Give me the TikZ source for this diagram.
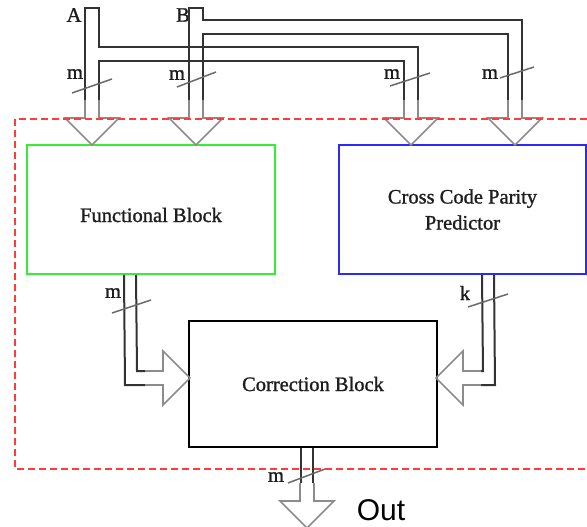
\documentclass[tikz,border=0pt]{standalone}
\usepackage{fontspec}
\setmainfont{Liberation Serif}
\newfontfamily\labfont[FakeBold=1.2]{Liberation Serif}
\newfontfamily\outfont{Liberation Sans}
\definecolor{busc}{HTML}{333333}
\definecolor{arrc}{HTML}{8C8C8C}
\definecolor{slashc}{HTML}{6A6A6A}
\definecolor{redc}{HTML}{FF3B3B}
\definecolor{greenc}{HTML}{33EE33}
\definecolor{bluec}{HTML}{2A2AFF}
\definecolor{textc}{HTML}{1E1E1E}
\begin{document}
\begin{tikzpicture}[x=1pt,y=-1pt,
  bus/.style={draw=busc,line width=2pt,line join=miter},
  harrow/.style={draw=arrc,line width=1.6pt,line join=miter},
  slash/.style={draw=slashc,line width=1.5pt},
  lbl/.style={inner sep=0pt,text=textc,font=\labfont\fontsize{20.5}{26}\selectfont},
  block/.style={draw,line width=2pt,inner sep=0pt,text=textc,font=\labfont\fontsize{20.5}{26}\selectfont,align=center},
  hollow/.pic={\path[harrow] (-7,0) -- (-7,18) -- (-27,18) -- (0,45) -- (27,18) -- (7,18) -- (7,0);}
]
\useasboundingbox (0,0) rectangle (587,527);

% input labels
\node[lbl] (A) at (74,15) {A};
\node[lbl] (B) at (183,15) {B};

% input buses
\draw[bus] (85,100) -- (85,8) -- (99,8) -- (99,47) -- (418,47) -- (418,100);
\draw[bus] (99,100) -- (99,61) -- (404,61) -- (404,100);
\draw[bus] (189,100) -- (189,8) -- (203,8) -- (203,20) -- (522,20) -- (522,100);
\draw[bus] (203,100) -- (203,34) -- (508,34) -- (508,100);

% blocks
\node[block,draw=greenc,minimum width=248,minimum height=129,text height=25pt,text depth=0pt] (func) at (151,209.5) {Functional Block};
\node[block,draw=bluec,minimum width=247,minimum height=129] (ccpp) at (462.5,209.5) {Cross Code Parity\\Predictor};
\node[block,draw=black,minimum width=248,minimum height=126] (corr) at (313,384) {Correction Block};

% input arrows
\coordinate (a1) at (92,100);
\coordinate (a2) at (196,100);
\coordinate (a3) at (411,100);
\coordinate (a4) at (515,100);
\pic at (a1) {hollow};
\pic at (a2) {hollow};
\pic at (a3) {hollow};
\pic at (a4) {hollow};

% functional block output
\draw[bus] (func.south west) ++(98,0) -- (125,385) -- (145,385);
\draw[bus] (func.south west) ++(110,0) -- (137,371) -- (145,371);
\coordinate (fa) at (145,378);
\pic[rotate=90] at (fa) {hollow};

% predictor output
\draw[bus] (ccpp.south west) ++(144,0) -- (483,371) -- (481,371);
\draw[bus] (ccpp.south west) ++(156,0) -- (495,385) -- (481,385);
\coordinate (ka) at (481,378);
\pic[rotate=-90] at (ka) {hollow};

% correction output
\draw[bus] (corr.south) ++(-12,0) -- (301,483);
\draw[bus] (corr.south) -- (313,483);
\coordinate (oa) at (307,483);
\pic at (oa) {hollow};
\node[inner sep=0pt,font=\outfont\fontsize{30}{30}\selectfont] (out) at (381,510) {Out};

% width markers
\draw[slash] (72,93) -- (112,79);
\node[lbl] (m1) at (75,74) {m};
\draw[slash] (177,87) -- (216,72);
\node[lbl] (m2) at (177,75) {m};
\draw[slash] (390,86) -- (430,73);
\node[lbl] (m3) at (392,74) {m};
\draw[slash] (500,78) -- (534,67);
\node[lbl] (m4) at (490,74) {m};
\draw[slash] (112,313) -- (151,300);
\node[lbl] (m5) at (113,293) {m};
\draw[slash] (468,307) -- (508,294);
\node[lbl] (k) at (465,293) {k};
\draw[slash] (288,483) -- (325,469);
\node[lbl] (m6) at (276,477) {m};

% boundary
\draw[draw=redc,line width=2pt,dash pattern=on 7pt off 4pt] (15,119) rectangle (600,469);
\end{tikzpicture}
\end{document}
